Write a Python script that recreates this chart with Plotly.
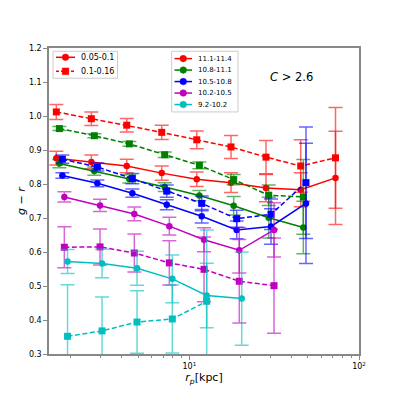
import plotly.graph_objects as go

# ---- data ----
x_red = [1.645, 2.646, 4.277, 6.877, 11.06, 17.61, 28.31, 45.35, 72.7]
x_green = [1.714, 2.755, 4.43, 7.16, 11.46, 18.26, 29.37, 46.97]
x_blue = [1.785, 2.87, 4.615, 7.36, 11.83, 19.02, 30.3, 48.7]
x_mag = [1.834, 2.977, 4.742, 7.625, 12.21, 19.7, 31.56]
x_cyan = [1.916, 3.06, 4.918, 7.94, 12.66, 20.36]

red_solid = [0.876, 0.865, 0.853, 0.832, 0.814, 0.804, 0.788, 0.783, 0.818]
red_solid_err = [0.02, 0.02, 0.02, 0.021, 0.021, 0.029, 0.04, 0.05, 0.137]
red_dash = [1.012, 0.992, 0.973, 0.952, 0.93, 0.909, 0.879, 0.853, 0.877]
red_dash_err = [0.022, 0.02, 0.02, 0.021, 0.026, 0.034, 0.049, 0.077, 0.148]

green_solid = [0.86, 0.838, 0.815, 0.791, 0.766, 0.736, 0.701, 0.672]
green_solid_err = [0.012, 0.012, 0.012, 0.013, 0.015, 0.027, 0.06, 0.077]
green_dash = [0.963, 0.942, 0.918, 0.886, 0.855, 0.813, 0.767, 0.762]
green_dash_err = [0.006, 0.006, 0.007, 0.008, 0.01, 0.015, 0.03, 0.11]

blue_solid = [0.825, 0.802, 0.773, 0.739, 0.705, 0.665, 0.675, 0.743]
blue_solid_err = [0.008, 0.01, 0.012, 0.015, 0.02, 0.026, 0.052, 0.177]
blue_dash = [0.873, 0.85, 0.816, 0.779, 0.743, 0.698, 0.711, 0.804]
blue_dash_err = [0.012, 0.012, 0.015, 0.018, 0.022, 0.025, 0.045, 0.164]

mag_solid = [0.762, 0.737, 0.712, 0.676, 0.636, 0.605, 0.665]
mag_solid_err = [0.015, 0.018, 0.02, 0.026, 0.035, 0.067, 0.08]
mag_dash = [0.614, 0.615, 0.597, 0.568, 0.549, 0.514, 0.501]
mag_dash_err = [0.06, 0.053, 0.056, 0.065, 0.095, 0.123, 0.14]

cyan_solid = [0.572, 0.566, 0.552, 0.521, 0.472, 0.463]
cyan_solid_err = [0.035, 0.042, 0.05, 0.07, 0.095, 0.137]
cyan_dash = [0.352, 0.368, 0.394, 0.403, 0.455]
cyan_dash_err = [0.152, 0.1, 0.092, 0.1, 0.21]

mass_labels = ["11.1-11.4", "10.8-11.1", "10.5-10.8", "10.2-10.5", "9.2-10.2"]
ratio_labels = ["0.05-0.1", "0.1-0.16"]
y_ticks = [0.3, 0.4, 0.5, 0.6, 0.7, 0.8, 0.9, 1.0, 1.1, 1.2]
x_ticks = [10, 100]
x_ticktext = ["10<sup>1</sup>", "10<sup>2</sup>"]
x_minor = [2, 3, 4, 5, 6, 7, 8, 9, 20, 30, 40, 50, 60, 70, 80, 90]

colors = {"red": "#ff0000", "green": "#008000", "blue": "#0000ff",
          "mag": "#bf00bf", "cyan": "#00bfbf"}
err_colors = {"red": "rgba(255,0,0,0.6)", "green": "rgba(0,128,0,0.6)",
              "blue": "rgba(0,0,255,0.6)", "mag": "rgba(191,0,191,0.6)",
              "cyan": "rgba(0,191,191,0.6)"}

series = [
    ("red", x_red, red_solid, red_solid_err, red_dash, red_dash_err),
    ("green", x_green, green_solid, green_solid_err, green_dash, green_dash_err),
    ("blue", x_blue, blue_solid, blue_solid_err, blue_dash, blue_dash_err),
    ("mag", x_mag, mag_solid, mag_solid_err, mag_dash, mag_dash_err),
    ("cyan", x_cyan, cyan_solid, cyan_solid_err, cyan_dash, cyan_dash_err),
]

fig = go.Figure()
DASH = "5px,2.5px"
for key, xs, ys, es, yd, ed in series:
    c = colors[key]
    ec = err_colors[key]
    fig.add_trace(go.Scatter(
        x=xs[:len(yd)], y=yd, mode="lines+markers",
        line=dict(color=c, width=1.5, dash=DASH),
        marker=dict(symbol="square", size=7, color=c),
        error_y=dict(type="data", array=ed, color=ec, thickness=1.5, width=7),
        showlegend=False))
    fig.add_trace(go.Scatter(
        x=xs[:len(ys)], y=ys, mode="lines+markers",
        line=dict(color=c, width=1.5),
        marker=dict(symbol="circle", size=6.5, color=c),
        error_y=dict(type="data", array=es, color=ec, thickness=1.5, width=7),
        showlegend=False))

# ---- compact legends (matplotlib-like), built from shapes + annotations ----
PL, PT, PW, PH = 49.0, 47.7, 310.0, 306.3   # plot-area box in page pixels


def px(x):
    return (x - PL) / PW


def py(y):
    return 1 - (y - PT) / PH


shapes = []
annots = []


def legend_box(x0, y0, x1, y1):
    shapes.append(dict(type="rect", xref="paper", yref="paper", layer="above",
                       x0=px(x0), x1=px(x1), y0=py(y1), y1=py(y0),
                       fillcolor="rgba(255,255,255,0.8)",
                       line=dict(color="#cccccc", width=1)))


def legend_item(lx0, lx1, y, color, dash, symbol, label, tx, fsize):
    shapes.append(dict(type="line", xref="paper", yref="paper", layer="above",
                       x0=px(lx0), x1=px(lx1), y0=py(y), y1=py(y),
                       line=dict(color=color, width=1.5, dash=dash)))
    cx, r = (lx0 + lx1) / 2, 3.3
    shapes.append(dict(type="circle" if symbol == "circle" else "rect",
                       xref="paper", yref="paper", layer="above",
                       xsizemode="pixel", ysizemode="pixel",
                       xanchor=px(cx), yanchor=py(y),
                       x0=-r, x1=r, y0=-r, y1=r,
                       fillcolor=color, line=dict(color=color, width=0.5)))
    annots.append(dict(text=label, xref="paper", yref="paper", x=px(tx), y=py(y),
                       xanchor="left", yanchor="middle", showarrow=False,
                       font=dict(size=fsize, color="black")))


legend_box(53, 51, 117.5, 78)
legend_item(56, 75, 57, colors["red"], "solid", "circle", ratio_labels[0], 78.5, 8)
legend_item(56, 75, 71, colors["red"], "3px,2px", "square", ratio_labels[1], 78.5, 8)

legend_box(171.7, 51, 238, 111.7)
for i, (key, lab) in enumerate(zip(["red", "green", "blue", "mag", "cyan"], mass_labels)):
    legend_item(174.5, 192, 58.3 + 11.5 * i, colors[key], "solid", "circle", lab, 196, 7)

annots.append(dict(text="<i>C</i> > 2.6", xref="paper", yref="paper",
                   x=px(291), y=py(77), xanchor="center", yanchor="middle",
                   showarrow=False, font=dict(size=11.5, color="black")))

axcol = "#888888"
# page has an 8px body margin: shift margins accordingly
fig.update_layout(
    width=399, height=399,
    margin=dict(l=41, r=48, t=40, b=53, autoexpand=False),
    paper_bgcolor="white", plot_bgcolor="white",
    font=dict(family="DejaVu Sans", size=8, color="black"),
    showlegend=False,
    shapes=shapes,
    annotations=annots,
)
fig.update_xaxes(type="log", range=[0.173, 2.0],
                 tickvals=x_ticks, ticktext=x_ticktext,
                 ticks="outside", ticklen=4, tickcolor=axcol,
                 minor=dict(tickvals=x_minor, ticks="outside", ticklen=2, tickcolor=axcol),
                 showgrid=False, showline=True, linecolor=axcol, linewidth=1.5, mirror=True,
                 automargin=False,
                 title=dict(text="<i>r</i><sub><i>p</i></sub>[kpc]", font=dict(size=11), standoff=3),
                 tickfont=dict(size=8))
fig.update_yaxes(range=[0.3, 1.2], tickvals=y_ticks, tickformat=".1f",
                 ticks="outside", ticklen=4, tickcolor=axcol,
                 showgrid=False, showline=True, linecolor=axcol, linewidth=1.5, mirror=True,
                 zeroline=False, automargin=False,
                 title=dict(text="<i>g</i> − <i>r</i>", font=dict(size=11), standoff=1),
                 tickfont=dict(size=8))

fig.write_html("out.html")
